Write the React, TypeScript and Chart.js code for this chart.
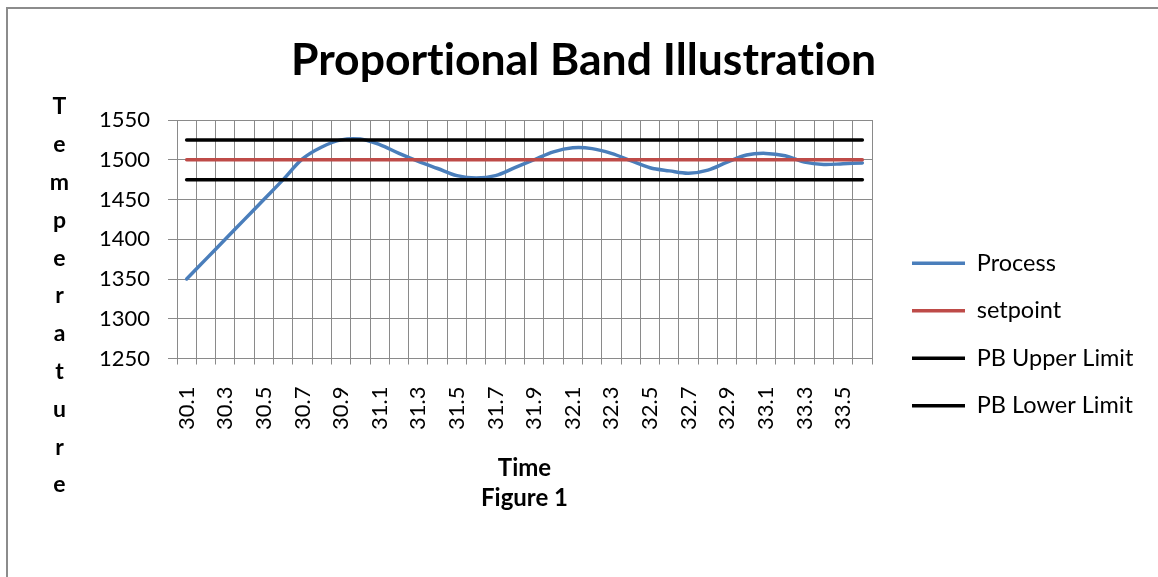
import React, { useEffect, useRef } from "react";
import { Chart, registerables } from "chart.js";

Chart.register(...registerables);

const chartTitle = "Proportional Band Illustration";
const yAxisTitle = "Temperature";
const xAxisTitle = ["Time", "Figure 1"];

const timeLabels = [
  "30.1", "30.2", "30.3", "30.4", "30.5", "30.6", "30.7", "30.8", "30.9", "31.0",
  "31.1", "31.2", "31.3", "31.4", "31.5", "31.6", "31.7", "31.8", "31.9", "32.0",
  "32.1", "32.2", "32.3", "32.4", "32.5", "32.6", "32.7", "32.8", "32.9", "33.0",
  "33.1", "33.2", "33.3", "33.4", "33.5", "33.6",
];

const processValues = [
  1350, 1375, 1400, 1425, 1450, 1475, 1501, 1516, 1525, 1526,
  1519, 1508, 1498, 1489, 1480, 1477, 1480, 1490, 1500, 1510,
  1515, 1514, 1508, 1499, 1490, 1486, 1483, 1487, 1497, 1506,
  1508, 1505, 1497, 1494, 1495, 1496,
];

const setpointValues = [
  1500, 1500, 1500, 1500, 1500, 1500, 1500, 1500, 1500, 1500,
  1500, 1500, 1500, 1500, 1500, 1500, 1500, 1500, 1500, 1500,
  1500, 1500, 1500, 1500, 1500, 1500, 1500, 1500, 1500, 1500,
  1500, 1500, 1500, 1500, 1500, 1500,
];

const upperLimitValues = [
  1525, 1525, 1525, 1525, 1525, 1525, 1525, 1525, 1525, 1525,
  1525, 1525, 1525, 1525, 1525, 1525, 1525, 1525, 1525, 1525,
  1525, 1525, 1525, 1525, 1525, 1525, 1525, 1525, 1525, 1525,
  1525, 1525, 1525, 1525, 1525, 1525,
];

const lowerLimitValues = [
  1475, 1475, 1475, 1475, 1475, 1475, 1475, 1475, 1475, 1475,
  1475, 1475, 1475, 1475, 1475, 1475, 1475, 1475, 1475, 1475,
  1475, 1475, 1475, 1475, 1475, 1475, 1475, 1475, 1475, 1475,
  1475, 1475, 1475, 1475, 1475, 1475,
];

const Y_MIN = 1250;
const Y_MAX = 1550;
const Y_STEP = 50;

const FONT = "Lato, 'Open Sans', sans-serif";
const BLUE = "#4a7ebb";
const RED = "#be4b48";
const BLACK = "#000000";
const GRID = "#8a8a8a";

const LEGEND_W = 286;
const LEGEND_X = 912;
const LEGEND_PAD = 24;
const LEGEND_DY = 46;

function noLigatures(chart: any) {
  const ctx = chart.ctx;
  if (ctx) {
    try {
      ctx.textRendering = "optimizeSpeed";
    } catch (e) {
      /* ignore */
    }
  }
}

const excelPlugin = {
  id: "excelLook",
  beforeUpdate(chart: any) {
    noLigatures(chart);
  },
  beforeLayout(chart: any) {
    const lg = chart.legend;
    if (lg && !lg.__fixedWidth) {
      const orig = lg.fit.bind(lg);
      lg.fit = () => {
        orig();
        lg.width = LEGEND_W;
      };
      lg.__fixedWidth = true;
    }
  },
  afterLayout(chart: any) {
    const lg = chart.legend;
    if (lg) {
      const dx = LEGEND_X - (lg.left + LEGEND_PAD);
      lg.left += dx;
      lg.right += dx;
      lg.top += LEGEND_DY;
      lg.bottom += LEGEND_DY;
    }
  },
  beforeDraw(chart: any) {
    noLigatures(chart);
    const ctx = chart.ctx;
    ctx.save();
    ctx.fillStyle = "#ffffff";
    ctx.fillRect(0, 0, chart.width, chart.height);
    ctx.fillStyle = "#8c8c8c";
    ctx.fillRect(6, 7, chart.width - 6, 2);
    ctx.fillRect(6, 7, 2, chart.height - 7);
    ctx.restore();
  },
  afterDraw(chart: any) {
    const ctx = chart.ctx;
    ctx.save();
    ctx.font = `bold 23px ${FONT}`;
    ctx.fillStyle = BLACK;
    ctx.textAlign = "center";
    ctx.textBaseline = "middle";
    const letters = yAxisTitle.split("");
    letters.forEach((ch, i) => {
      ctx.fillText(ch, 59.5, 107 + i * 37.8);
    });
    ctx.restore();
  },
};

export default function App() {
  const ref = useRef<HTMLCanvasElement>(null);

  useEffect(() => {
    if (!ref.current) return;
    const common = {
      borderWidth: 3.5,
      pointRadius: 0,
      pointHoverRadius: 0,
      borderCapStyle: "round" as const,
      fill: false,
    };
    const chart = new Chart(ref.current, {
      type: "line",
      data: {
        labels: timeLabels,
        datasets: [
          { ...common, label: "Process", data: processValues, borderColor: BLUE, backgroundColor: BLUE, tension: 0.35, order: 4 },
          { ...common, label: "setpoint", data: setpointValues, borderColor: RED, backgroundColor: RED, tension: 0, order: 3 },
          { ...common, label: "PB Upper Limit", data: upperLimitValues, borderColor: BLACK, backgroundColor: BLACK, tension: 0, order: 2 },
          { ...common, label: "PB Lower Limit", data: lowerLimitValues, borderColor: BLACK, backgroundColor: BLACK, tension: 0, order: 1 },
        ],
      },
      options: {
        animation: false,
        responsive: false,
        devicePixelRatio: 1,
        events: [],
        layout: { padding: { left: 9, right: 0, top: 0, bottom: 0 } },
        scales: {
          x: {
            type: "category",
            offset: true,
            afterFit: (scale: any) => {
              scale.paddingLeft = 0;
              scale.paddingRight = 0;
            },
            grid: { display: true, offset: true, color: GRID, lineWidth: 1, drawTicks: true, tickLength: 6, tickColor: GRID },
            border: { display: true, color: GRID, width: 1 },
            ticks: {
              autoSkip: false,
              minRotation: 90,
              maxRotation: 90,
              padding: 22,
              color: BLACK,
              font: { family: FONT, size: 22 },
              callback: function (this: any, value: any, index: number) {
                return index % 2 === 0 ? this.getLabelForValue(value) : "";
              },
            },
            title: {
              display: true,
              text: xAxisTitle,
              color: BLACK,
              font: { family: FONT, size: 24, weight: "bold", lineHeight: 1.25 },
              padding: { top: 1, bottom: 64 },
            },
          },
          y: {
            type: "linear",
            min: Y_MIN,
            max: Y_MAX,
            afterFit: (scale: any) => {
              scale.width = 168;
            },
            grid: { color: GRID, lineWidth: 1, drawTicks: true, tickLength: 9, tickColor: GRID },
            border: { display: true, color: GRID, width: 1 },
            ticks: {
              stepSize: Y_STEP,
              padding: 18,
              color: BLACK,
              font: { family: FONT, size: 22 },
              callback: (value: any) => String(value),
            },
          },
        },
        plugins: {
          title: {
            display: true,
            text: chartTitle,
            color: BLACK,
            font: { family: FONT, size: 44.5, weight: "bold", lineHeight: 1.2 },
            padding: { top: 34, bottom: 32.6 },
          },
          legend: {
            display: true,
            position: "right",
            align: "center",
            labels: {
              usePointStyle: true,
              pointStyle: "line",
              pointStyleWidth: 53,
              boxWidth: 53,
              padding: LEGEND_PAD,
              color: BLACK,
              font: { family: FONT, size: 23.5 },
              sort: (a: any, b: any) => a.datasetIndex - b.datasetIndex,
            },
          },
          tooltip: { enabled: false },
        },
      },
      plugins: [excelPlugin],
    });
    return () => chart.destroy();
  }, []);

  return (
    <div style={{ position: "absolute", left: 0, top: 0, width: 1158, height: 577, background: "#fff" }}>
      <canvas ref={ref} width={1158} height={577} style={{ display: "block", width: 1158, height: 577 }} />
    </div>
  );
}
